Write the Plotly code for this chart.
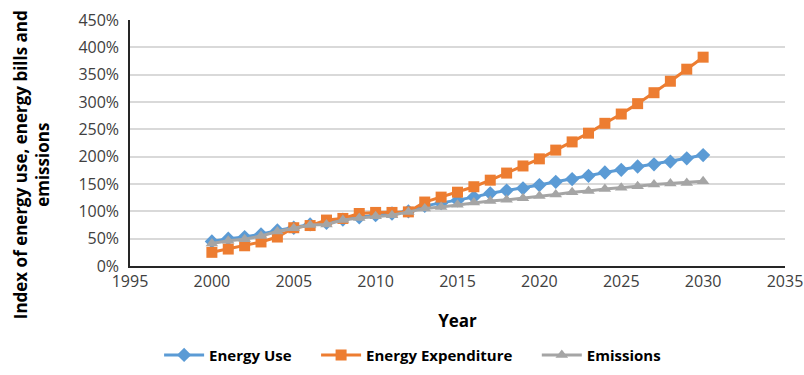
import plotly.graph_objects as go

years = list(range(2000, 2031))

energy_use = [45, 50, 53, 58, 65, 70, 76, 79, 85, 89, 93, 96, 100, 110, 115, 120,
              126, 133, 138, 142, 148, 154, 159, 165, 171, 176, 182, 186, 191, 197, 203]
energy_expenditure = [25, 31, 37, 44, 53, 70, 74, 84, 87, 96, 98, 98, 99, 117, 126, 135,
                      145, 157, 170, 183, 196, 212, 227, 243, 261, 278, 297, 317, 338, 360, 382]
emissions = [41, 46, 49, 55, 63, 69, 75, 76, 84, 88, 91, 93, 99, 105, 108, 112,
             116, 119, 121, 124, 128, 131, 135, 137, 141, 143, 146, 149, 151, 152, 155]

series = [
    ("Energy Use", energy_use, "#5B9BD5", "diamond", 11),
    ("Energy Expenditure", energy_expenditure, "#ED7D31", "square", 11),
    ("Emissions", emissions, "#A5A5A5", "triangle-up", 11),
]

FONT = "Open Sans"
PAD = "\u00a0" * 5  # breathing room between legend entries

fig = go.Figure()
for name, vals, color, symbol, size in series:
    fig.add_trace(go.Scatter(
        x=years, y=vals, name=name + PAD, mode="lines+markers",
        line=dict(color=color, width=3),
        marker=dict(symbol=symbol, size=size, color=color),
    ))

fig.update_layout(
    width=804, height=375,
    margin=dict(l=130, r=19, t=20, b=109, autoexpand=False),
    paper_bgcolor="white", plot_bgcolor="white",
    font=dict(family=FONT, color="#404040", size=14),
    showlegend=True,
    legend=dict(
        orientation="h", x=0.525, xref="container", xanchor="center",
        y=0.053, yref="container", yanchor="middle",
        font=dict(family=FONT, size=15, color="#000000", weight="bold"),
        itemwidth=40,
    ),
    xaxis=dict(
        range=[1995, 2035], dtick=5, tick0=1995, automargin=False,
        showgrid=False, zeroline=False,
        showline=True, linecolor="#262626", linewidth=1.5,
        ticks="", tickfont=dict(size=16, color="#404040"),
        title=dict(text="Year", font=dict(size=17, color="#000000", weight="bold"), standoff=24),
    ),
    yaxis=dict(
        range=[0, 450], dtick=50, ticksuffix="%", automargin=False,
        showgrid=True, gridcolor="#D9D9D9", gridwidth=1.5, zeroline=False,
        showline=True, linecolor="#262626", linewidth=1.5,
        ticks="", tickfont=dict(size=16, color="#404040"), ticklabelstandoff=6,
    ),
    annotations=[dict(
        text="Index of energy use, energy bills and<br>emissions",
        xref="paper", yref="paper", x=-0.151, y=0.41,
        xanchor="center", yanchor="middle", textangle=-90, showarrow=False,
        font=dict(family=FONT, size=17, color="#000000", weight="bold"),
    )],
)

fig.write_html("out.html")
